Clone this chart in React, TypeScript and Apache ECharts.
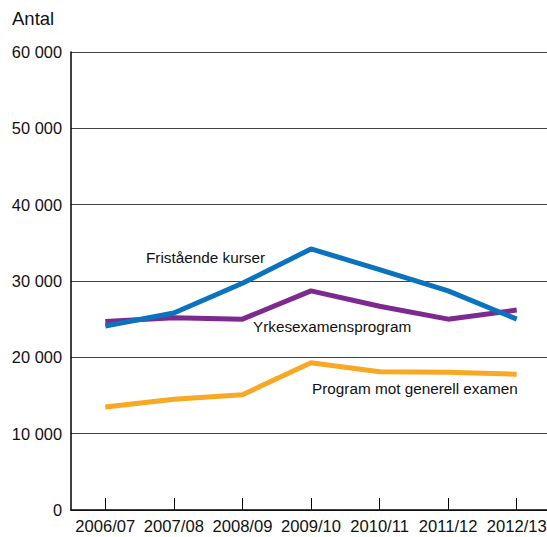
import React, { useEffect, useRef } from "react";
import * as echarts from "echarts";

const categories = ["2006/07", "2007/08", "2008/09", "2009/10", "2010/11", "2011/12", "2012/13"];
const fristaende = [24100, 25800, 29700, 34200, 31500, 28700, 25000];
const yrkes = [24700, 25200, 25000, 28700, 26700, 25000, 26200];
const generell = [13500, 14500, 15100, 19300, 18100, 18050, 17800];

const FONT = "Liberation Sans, Arial, sans-serif";

function fmt(v: number): string {
  if (v === 0) return "0";
  const s = String(v);
  return s.replace(/\B(?=(\d{3})+(?!\d))/g, " ");
}

export default function App() {
  const ref = useRef<HTMLDivElement>(null);
  useEffect(() => {
    if (!ref.current) return;
    const chart = echarts.init(ref.current, undefined, { renderer: "svg" });
    chart.setOption({
      animation: false,
      backgroundColor: "#ffffff",
      grid: { left: 71, top: 52, bottom: 27, width: 480, containLabel: false, outerBoundsMode: "none" },
      xAxis: {
        type: "category",
        data: categories,
        boundaryGap: true,
        axisLine: { show: true, lineStyle: { color: "#000", width: 1.5 } },
        axisTick: { show: true, inside: true, length: 12, alignWithLabel: true, lineStyle: { color: "#000", width: 1 } },
        axisLabel: { color: "#111", fontFamily: FONT, fontSize: 16.6, margin: 8, interval: 0 },
        splitLine: { show: false },
      },
      yAxis: {
        type: "value",
        min: 0,
        max: 60000,
        interval: 10000,
        axisLine: { show: true, lineStyle: { color: "#000", width: 1.5 } },
        axisTick: { show: false },
        axisLabel: { color: "#111", fontFamily: FONT, fontSize: 16.4, margin: 9, formatter: (v: number) => fmt(v) },
        splitLine: { show: true, lineStyle: { color: "#444", width: 1 } },
      },
      series: [
        {
          type: "line",
          name: "Program mot generell examen",
          data: generell,
          symbol: "none",
          lineStyle: { color: "#f8a823", width: 5 },
          itemStyle: { color: "#f8a823" },
        },
        {
          type: "line",
          name: "Yrkesexamensprogram",
          data: yrkes,
          symbol: "none",
          lineStyle: { color: "#7d2a8f", width: 5 },
          itemStyle: { color: "#7d2a8f" },
        },
        {
          type: "line",
          name: "Fristående kurser",
          data: fristaende,
          symbol: "none",
          lineStyle: { color: "#0b73bd", width: 5 },
          itemStyle: { color: "#0b73bd" },
        },
      ],
      graphic: [
        { type: "text", left: 12, top: 9, style: { text: "Antal", fontFamily: FONT, fontSize: 18.5, fill: "#111" } },
        { type: "text", left: 146, top: 250, style: { text: "Fristående kurser", fontFamily: FONT, fontSize: 15.3, fill: "#111" } },
        { type: "text", left: 253, top: 319, style: { text: "Yrkesexamensprogram", fontFamily: FONT, fontSize: 15.3, fill: "#111" } },
        { type: "text", left: 312, top: 381, style: { text: "Program mot generell examen", fontFamily: FONT, fontSize: 15.3, fill: "#111" } },
      ],
    });
    return () => chart.dispose();
  }, []);
  return <div ref={ref} style={{ position: "absolute", left: 0, top: 0, width: 547, height: 537 }} />;
}
